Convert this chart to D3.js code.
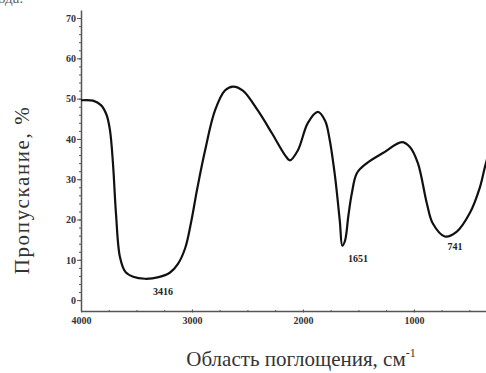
<!DOCTYPE html>
<html><head><meta charset="utf-8">
<script src="https://cdn.jsdelivr.net/npm/d3@7"></script>
<style>body{margin:0;background:#fff}svg{display:block}</style>
</head><body>
<script>
const wavenumber = [4000,3892,3820,3770,3739,3712,3685,3649,3600,3530,3423,3300,3200,3126,3060,3010,2950,2883,2793,2703,2631,2541,2405,2279,2162,2117,2045,1955,1865,1800,1760,1712,1667,1645,1620,1590,1559,1514,1423,1279,1108,1036,964,883,829,721,613,496,405,360,320];
const transmittance = [49.6,49.5,48.4,46,42.2,34,21.6,10.7,7,5.8,5.3,5.7,6.8,9,13,19,28,37,47,52,53,52,47,41.4,36,34.7,37.2,44,46.7,44.5,40,31,19.5,13.5,14.8,21,26.5,31.5,34,36.5,39.2,38,34,24,19,15.8,17,21.6,28,33,37];
const yTicks = [0,10,20,30,40,50,60,70];
const xTicks = [4000,3000,2000,1000];
const peakLabels = [{w:3416,t:"3416"},{w:1651,t:"1651"},{w:741,t:"741"}];
const yTitle = "Пропускание, %";
const xTitle = "Область поглощения, см";

const W=486,H=373;
const svg=d3.select("body").append("svg").attr("width",W).attr("height",H);
const x=d3.scaleLinear().domain([4000,350]).range([81,486]);
const y=d3.scaleLinear().domain([-2.7,72]).range([311,10]);
const serif="'Liberation Serif','Times New Roman',serif";
const axisCol="#555";

// cut-off caption at top-left
svg.append("text").attr("x",-2).attr("y",3).attr("font-family",serif).attr("font-size",15).attr("fill","#666").text("ода:");

// y axis minor
const gyMinor=svg.append("g").attr("transform","translate(81,0)")
  .call(d3.axisLeft(y).tickValues(d3.range(0,71,2)).tickSize(2).tickSizeOuter(0).tickFormat(""));
gyMinor.selectAll("line").attr("stroke",axisCol);
gyMinor.select(".domain").attr("stroke",axisCol).attr("stroke-width",1.5);
const gy=svg.append("g").attr("transform","translate(81,0)")
  .call(d3.axisLeft(y).tickValues(yTicks).tickSize(4).tickSizeOuter(0).tickPadding(1));
gy.select(".domain").remove();
gy.selectAll("line").attr("stroke",axisCol);
gy.selectAll("text").attr("font-family",serif).attr("font-weight","bold").attr("font-size",10).attr("fill","#333");

// x axis
const gxMinor=svg.append("g").attr("transform","translate(0,311)")
  .call(d3.axisBottom(x).tickValues(d3.range(4000,349,-250)).tickSize(2).tickSizeOuter(0).tickFormat(""));
gxMinor.selectAll("line").attr("stroke",axisCol).attr("transform","translate(0,-1)");
gxMinor.select(".domain").attr("stroke",axisCol).attr("stroke-width",1.5);
const gx=svg.append("g").attr("transform","translate(0,311)")
  .call(d3.axisBottom(x).tickValues(xTicks).tickSize(3).tickSizeOuter(0).tickPadding(3).tickFormat(d3.format("d")));
gx.select(".domain").remove();
gx.selectAll("line").attr("stroke",axisCol).attr("transform","translate(0,-1.5)");
gx.selectAll("text").attr("font-family",serif).attr("font-weight","bold").attr("font-size",10).attr("fill","#333");

// curve
svg.append("defs").append("clipPath").attr("id","c").append("rect").attr("x",81).attr("y",0).attr("width",W-81).attr("height",311);
const line=d3.line().x((d,i)=>x(wavenumber[i])).y(d=>y(d)).curve(d3.curveCatmullRom.alpha(0.5));
svg.append("path").attr("clip-path","url(#c)").attr("d",line(transmittance))
  .attr("fill","none").attr("stroke","#111").attr("stroke-width",2.2).attr("stroke-linejoin","round");

// peak labels
const lblPos={"3416":[163,295],"1651":[358,262],"741":[455,250]};
peakLabels.forEach(p=>{
  const pos=lblPos[p.t];
  svg.append("text").attr("x",pos[0]).attr("y",pos[1]).attr("text-anchor","middle")
    .attr("font-family",serif).attr("font-weight","bold").attr("font-size",10).attr("fill","#222").text(p.t);
});

// titles
svg.append("text").attr("transform","translate(29,190) rotate(-90)").attr("text-anchor","middle")
  .attr("font-family",serif).attr("font-size",21).attr("letter-spacing",1.6).attr("fill","#333").text(yTitle);
const xt=svg.append("text").attr("x",301).attr("y",366).attr("text-anchor","middle")
  .attr("font-family",serif).attr("font-size",21).attr("fill","#333");
xt.append("tspan").text(xTitle);
xt.append("tspan").attr("dy",-9).attr("font-size",12).text("-1");
</script>
</body></html>
